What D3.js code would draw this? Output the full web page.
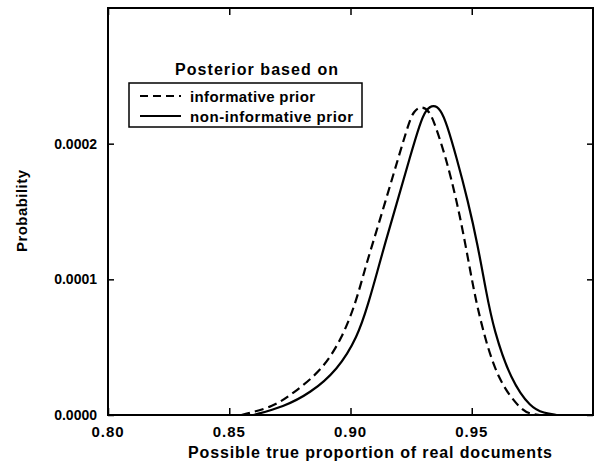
<!DOCTYPE html>
<html>
<head>
<meta charset="utf-8">
<script src="https://cdn.jsdelivr.net/npm/d3@7"></script>
<style>
  body { margin: 0; background: #fff; }
  text { font-family: "Liberation Sans", Arial, sans-serif; fill: #000; }
</style>
</head>
<body>
<div id="chart"></div>
<script>
// values
var infX = [0.855, 0.8682, 0.8764, 0.8884, 0.8967, 0.9021, 0.9058, 0.9089, 0.9145, 0.9198, 0.924, 0.926, 0.9293, 0.9325,
            0.9347, 0.9393, 0.9438, 0.9475, 0.9508, 0.9545, 0.9607, 0.9702, 0.9744, 0.978];
var infY = [0, 0.0000059, 0.0000162, 0.0000331, 0.0000574, 0.0000824, 0.0001066, 0.000125, 0.000158, 0.00019, 0.000215, 0.000224, 0.000228, 0.000224,
            0.000215, 0.00019, 0.000158, 0.000125, 0.000092, 0.0000625, 0.0000257, 0.0000037, 0.0000007, 0];

var nonX = [0.860, 0.8723, 0.8835, 0.8946, 0.9029, 0.9074, 0.9112, 0.914, 0.9194, 0.9245, 0.9287, 0.931, 0.9343, 0.9372,
            0.9396, 0.9437, 0.9484, 0.9525, 0.9558, 0.9591, 0.9661, 0.9744, 0.9798, 0.985];
var nonY = [0, 0.0000059, 0.0000162, 0.0000331, 0.0000574, 0.0000824, 0.0001066, 0.000125, 0.000158, 0.00019, 0.000215, 0.000225, 0.000229, 0.000225,
            0.000215, 0.00019, 0.000158, 0.000125, 0.000092, 0.0000625, 0.0000257, 0.0000051, 0.0000015, 0];

var xTicks = [0.80, 0.85, 0.90, 0.95];
var xMinor = d3.range(0, 21).map(function (i) { return 0.80 + i * 0.01; });
var yTicks = [0, 0.0001, 0.0002];
var yMinor = [0.00005, 0.00015, 0.00025];

var legendTitle = 'Posterior based on';
var seriesNames = ['informative prior', 'non-informative prior'];

var width = 601, height = 463;
var pLeft = 108, pRight = 593, pTop = 8, pBottom = 415;

var x = d3.scaleLinear().domain([0.80, 1.00]).range([pLeft, pRight]);
var y = d3.scaleLinear().domain([0, 0.0003]).range([pBottom, pTop]);

var svg = d3.select('#chart').append('svg')
  .attr('width', width)
  .attr('height', height);

// axes: ticks pointing inward on all four sides
var axB = svg.append('g').attr('transform', 'translate(0,' + pBottom + ')');
axB.call(d3.axisTop(x).tickValues(xMinor).tickSize(3).tickFormat(''));
axB.call(d3.axisTop(x).tickValues(xTicks).tickSize(7).tickFormat(''));
axB.selectAll('.domain').remove();

var axT = svg.append('g').attr('transform', 'translate(0,' + pTop + ')');
axT.call(d3.axisBottom(x).tickValues(xMinor).tickSize(3).tickFormat(''));
axT.call(d3.axisBottom(x).tickValues(xTicks).tickSize(7).tickFormat(''));
axT.selectAll('.domain').remove();

var axL = svg.append('g').attr('transform', 'translate(' + pLeft + ',0)');
axL.call(d3.axisRight(y).tickValues(yMinor).tickSize(3).tickFormat(''));
axL.call(d3.axisRight(y).tickValues(yTicks).tickSize(6).tickFormat(''));
axL.selectAll('.domain').remove();

var axR = svg.append('g').attr('transform', 'translate(' + pRight + ',0)');
axR.call(d3.axisLeft(y).tickValues(yMinor).tickSize(3).tickFormat(''));
axR.call(d3.axisLeft(y).tickValues(yTicks).tickSize(6).tickFormat(''));
axR.selectAll('.domain').remove();

svg.selectAll('.tick line').attr('stroke', '#000').attr('stroke-width', 1.5);

svg.append('rect')
  .attr('x', pLeft).attr('y', pTop)
  .attr('width', pRight - pLeft).attr('height', pBottom - pTop)
  .attr('fill', 'none').attr('stroke', '#000').attr('stroke-width', 2);

// tick labels
svg.selectAll('.xlab').data(xTicks).enter().append('text')
  .attr('x', function (d) { return x(d); })
  .attr('y', pBottom + 22)
  .attr('text-anchor', 'middle')
  .style('font-size', '15px')
  .style('font-weight', 'bold')
  .style('letter-spacing', '1px')
  .text(function (d) { return d.toFixed(2); });

svg.selectAll('.ylab').data(yTicks).enter().append('text')
  .attr('x', pLeft - 11)
  .attr('y', function (d) { return y(d) + 5; })
  .attr('text-anchor', 'end')
  .style('font-size', '14px')
  .style('font-weight', 'bold')
  .text(function (d) { return d.toFixed(4); });

// axis titles
svg.append('text')
  .attr('x', 370).attr('y', 458)
  .attr('text-anchor', 'middle')
  .attr('textLength', 364)
  .style('font-size', '16px')
  .style('font-weight', 'bold')
  .text('Possible true proportion of real documents');

svg.append('text')
  .attr('transform', 'translate(27,211) rotate(-90)')
  .attr('text-anchor', 'middle')
  .attr('textLength', 82)
  .style('font-size', '15px')
  .style('font-weight', 'bold')
  .text('Probability');

// curves
var line = d3.line()
  .x(function (d) { return x(d[0]); })
  .y(function (d) { return y(d[1]); })
  .curve(d3.curveBasis);

svg.append('path')
  .datum(d3.zip(infX, infY))
  .attr('d', line)
  .attr('fill', 'none').attr('stroke', '#000').attr('stroke-width', 2.2)
  .attr('stroke-dasharray', '9,5');

svg.append('path')
  .datum(d3.zip(nonX, nonY))
  .attr('d', line)
  .attr('fill', 'none').attr('stroke', '#000').attr('stroke-width', 2.2);

// legend
svg.append('text')
  .attr('x', 175).attr('y', 75)
  .attr('textLength', 163)
  .style('font-size', '16px')
  .style('font-weight', 'bold')
  .text(legendTitle);

svg.append('rect')
  .attr('x', 129).attr('y', 83)
  .attr('width', 233).attr('height', 44)
  .attr('fill', 'none').attr('stroke', '#000').attr('stroke-width', 1.5);

var rows = svg.selectAll('.leg').data(seriesNames).enter().append('g')
  .attr('transform', function (d, i) { return 'translate(0,' + (96 + i * 20) + ')'; });

rows.append('line')
  .attr('x1', 140).attr('x2', 181)
  .attr('stroke', '#000').attr('stroke-width', 1.8)
  .attr('stroke-dasharray', function (d, i) { return i === 0 ? '8,5' : null; });

rows.append('text')
  .attr('x', 190).attr('y', 6)
  .style('font-size', '15px')
  .style('font-weight', 'bold')
  .attr('textLength', function (d, i) { return i === 0 ? 125 : 163; })
  .text(function (d) { return d; });
</script>
</body>
</html>
